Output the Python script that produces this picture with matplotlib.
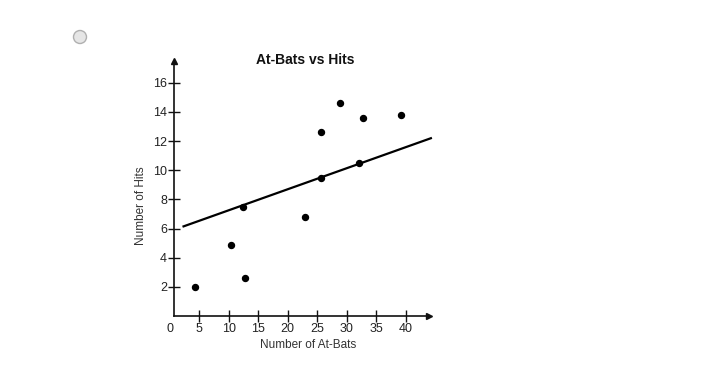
import matplotlib
matplotlib.use("Agg")
import matplotlib.pyplot as plt
from matplotlib.patches import Ellipse

at_bats = [4.3, 10.3, 12.4, 12.8, 23.0, 25.6, 25.6, 28.8, 32.1, 32.7, 39.2]
hits = [2.0, 4.9, 7.5, 2.6, 6.8, 12.6, 9.5, 14.6, 10.5, 13.6, 13.8]
fit_x = [2.3, 44.3]
fit_y = [6.15, 12.2]
x_ticks = [5, 10, 15, 20, 25, 30, 35, 40]
y_ticks = [2, 4, 6, 8, 10, 12, 14, 16]

plt.rcParams['font.family'] = ['Liberation Sans', 'DejaVu Sans']

fig = plt.figure(figsize=(7.12, 3.78), dpi=100)
ax = fig.add_axes([170/712, 1-316/378, 265/712, 262.3/378])
ax.set_xlim(0, 45)
ax.set_ylim(0, 18)

for s in ['top', 'right']:
    ax.spines[s].set_visible(False)
ax.spines['left'].set_position(('data', 0.7))
ax.spines['bottom'].set_position(('data', 0))
for s in ['left', 'bottom']:
    ax.spines[s].set_linewidth(1.2)
    ax.spines[s].set_color('#111111')
ax.spines['left'].set_bounds(0, 17.3)
ax.spines['bottom'].set_bounds(0.7, 43.6)

ax.set_xticks(x_ticks)
ax.set_yticks(y_ticks)
ax.tick_params(direction='inout', length=8, width=1.0, color='#111111',
               labelsize=9, labelcolor='#222222', pad=1)

# arrowheads
ax.plot([0.7], [17.5], marker='^', color='#111111', markersize=5, clip_on=False)
ax.plot([43.9], [0], marker='>', color='#111111', markersize=5, clip_on=False)

ax.text(0, -0.45, '0', ha='center', va='top', fontsize=9, color='#222222')

ax.plot(fit_x, fit_y, color='black', linewidth=1.6, clip_on=False)
ax.plot(at_bats, hits, 'o', color='black', markersize=4.3, clip_on=False)

fig.text(305/712, 1-60/378, 'At-Bats vs Hits', ha='center', va='center',
         fontsize=10, fontweight='bold', color='#111111')
fig.text(308/712, 1-345/378, 'Number of At-Bats', ha='center', va='center',
         fontsize=8.5, color='#333333')
fig.text(141/712, 1-206/378, 'Number of Hits', ha='center', va='center',
         fontsize=8.5, color='#333333', rotation=90)

# radio button
fig.patches.append(Ellipse((80/712, 1-37/378), 13/712, 13/378, transform=fig.transFigure,
                           facecolor='#e6e6e6', edgecolor='#b0b0b0', linewidth=1.0))

fig.savefig('out.png', dpi=100)
